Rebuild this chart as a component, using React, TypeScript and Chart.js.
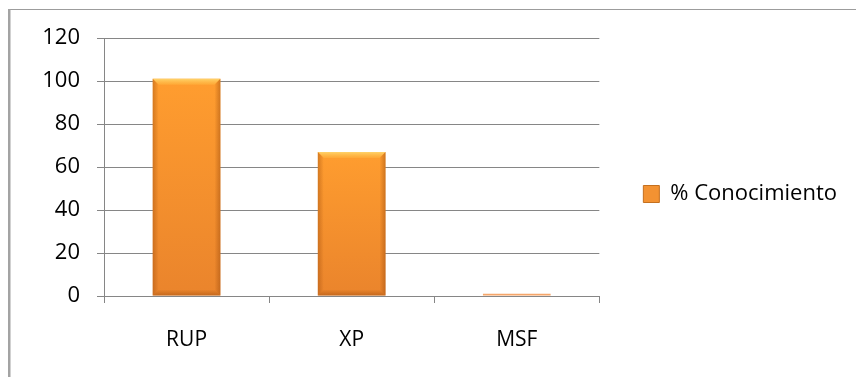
import React, { useEffect, useRef } from "react";
import { Chart, registerables } from "chart.js";

Chart.register(...registerables);

const categories = ["RUP", "XP", "MSF"];
const seriesLabel = "% Conocimiento";
const conocimiento = [101, 67, 1];
const yTicks = [0, 20, 40, 60, 80, 100, 120];

const FONT = "'Open Sans', 'Liberation Sans', sans-serif";
const GRID = "#868686";

const framePlugin = {
  id: "frame",
  afterDraw(chart: any) {
    const ctx = chart.ctx;
    ctx.save();
    ctx.fillStyle = "#9c9c9c";
    ctx.fillRect(9, 9, chart.width - 9, 1);
    ctx.fillStyle = "#a3a3a3";
    ctx.fillRect(8, 9, 2.5, chart.height - 9);
    ctx.restore();
  },
};

const bevelPlugin = {
  id: "bevel",
  afterDatasetsDraw(chart: any) {
    const ctx = chart.ctx;
    const meta = chart.getDatasetMeta(0);
    ctx.save();
    meta.data.forEach((el: any) => {
      const w = el.width;
      const left = el.x - w / 2;
      const right = el.x + w / 2;
      const top = Math.min(el.y, el.base);
      const bottom = Math.max(el.y, el.base);
      const h = bottom - top;
      if (h < 6) return;
      const b = 6;
      const gTop = ctx.createLinearGradient(0, top, 0, top + b);
      gTop.addColorStop(0, "rgba(255,214,110,0.95)");
      gTop.addColorStop(1, "rgba(255,190,70,0.35)");
      ctx.fillStyle = gTop;
      ctx.beginPath();
      ctx.moveTo(left, top);
      ctx.lineTo(right, top);
      ctx.lineTo(right - b, top + b);
      ctx.lineTo(left + b, top + b);
      ctx.closePath();
      ctx.fill();
      const gL = ctx.createLinearGradient(left, 0, left + b, 0);
      gL.addColorStop(0, "rgba(150,70,10,0.4)");
      gL.addColorStop(1, "rgba(150,70,10,0)");
      ctx.fillStyle = gL;
      ctx.beginPath();
      ctx.moveTo(left, top);
      ctx.lineTo(left + b, top + b);
      ctx.lineTo(left + b, bottom - b);
      ctx.lineTo(left, bottom);
      ctx.closePath();
      ctx.fill();
      const gR = ctx.createLinearGradient(right, 0, right - b, 0);
      gR.addColorStop(0, "rgba(150,70,10,0.45)");
      gR.addColorStop(1, "rgba(150,70,10,0)");
      ctx.fillStyle = gR;
      ctx.beginPath();
      ctx.moveTo(right, top);
      ctx.lineTo(right - b, top + b);
      ctx.lineTo(right - b, bottom - b);
      ctx.lineTo(right, bottom);
      ctx.closePath();
      ctx.fill();
      const gB = ctx.createLinearGradient(0, bottom, 0, bottom - b);
      gB.addColorStop(0, "rgba(150,70,10,0.45)");
      gB.addColorStop(1, "rgba(150,70,10,0)");
      ctx.fillStyle = gB;
      ctx.beginPath();
      ctx.moveTo(left, bottom);
      ctx.lineTo(right, bottom);
      ctx.lineTo(right - b, bottom - b);
      ctx.lineTo(left + b, bottom - b);
      ctx.closePath();
      ctx.fill();
    });
    ctx.restore();
  },
};

export default function App() {
  const ref = useRef<HTMLCanvasElement | null>(null);

  useEffect(() => {
    document.body.style.margin = "0";
    const canvas = ref.current;
    if (!canvas) return;
    const chart = new Chart(canvas, {
      type: "bar",
      data: {
        labels: categories,
        datasets: [
          {
            label: seriesLabel,
            data: conocimiento,
            backgroundColor: (c: any) => {
              const ch = c.chart;
              const ys = ch.scales && ch.scales.y;
              if (!ys || c.raw === undefined) return "#F7952F";
              const t = ys.getPixelForValue(c.raw);
              const bt = ys.getPixelForValue(0);
              if (Math.abs(bt - t) < 4) return "#F5A66A";
              const g = ch.ctx.createLinearGradient(0, t, 0, bt);
              g.addColorStop(0, "#FF9D2F");
              g.addColorStop(1, "#EA842C");
              return g;
            },
            borderWidth: 0,
            barPercentage: 0.41,
            categoryPercentage: 1,
          },
        ],
      },
      options: {
        animation: false,
        responsive: false,
        maintainAspectRatio: false,
        layout: { padding: { top: 38, bottom: 27, left: 0, right: 9 } },
        plugins: {
          tooltip: { enabled: false },
          legend: {
            position: "right",
            maxWidth: 320,
            labels: {
              color: "#000",
              font: { family: FONT, size: 22 },
              boxWidth: 16,
              boxHeight: 17,
              padding: 44,
              generateLabels: () => [
                {
                  text: seriesLabel,
                  fillStyle: "#F39232",
                  strokeStyle: "#C4701F",
                  lineWidth: 1,
                  hidden: false,
                  datasetIndex: 0,
                },
              ],
            },
          },
        },
        scales: {
          x: {
            offset: true,
            grid: {
              offset: true,
              drawOnChartArea: false,
              drawTicks: true,
              tickLength: 7,
              color: GRID,
            },
            border: { color: GRID, width: 1 },
            ticks: {
              color: "#000",
              font: { family: FONT, size: 21 },
              padding: 24,
            },
            afterFit: (s: any) => {
              s.height = 54;
            },
          },
          y: {
            min: 0,
            max: 120,
            afterBuildTicks: (s: any) => {
              s.ticks = yTicks.map((v) => ({ value: v }));
            },
            grid: {
              color: GRID,
              tickLength: 7,
              drawTicks: true,
            },
            border: { color: GRID, width: 1 },
            ticks: {
              color: "#000",
              font: { family: FONT, size: 22 },
              padding: 17,
            },
            afterFit: (s: any) => {
              s.width = 104;
            },
          },
        },
      },
      plugins: [bevelPlugin, framePlugin],
    } as any);
    return () => chart.destroy();
  }, []);

  return (
    <div style={{ width: 856, height: 377, background: "#fff" }}>
      <canvas ref={ref} width={856} height={377} />
    </div>
  );
}
